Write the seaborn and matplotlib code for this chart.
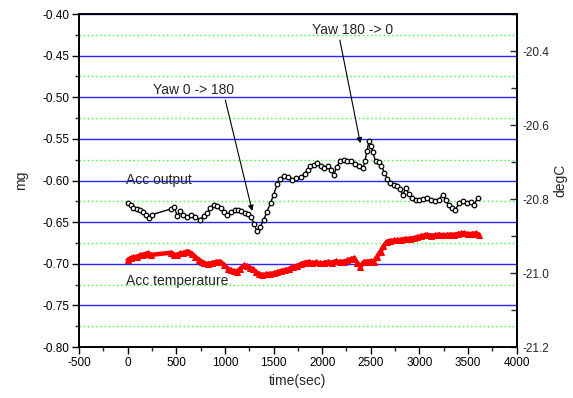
import numpy as np
import pandas as pd
import matplotlib
matplotlib.use("Agg")
import matplotlib.pyplot as plt
import seaborn as sns
from matplotlib.ticker import MultipleLocator, FormatStrFormatter

# ---------------- data ----------------
out_time = [0, 30, 60, 100, 130, 160, 190, 220, 250, 450, 480, 510, 540, 570, 610, 650, 690, 740,
            780, 815, 850, 885, 920, 955, 990, 1020, 1060, 1100, 1130, 1170, 1210, 1240, 1270,
            1300, 1330, 1360, 1400, 1430, 1470, 1500, 1540, 1570, 1610, 1650, 1690, 1730, 1780,
            1820, 1850, 1880, 1920, 1950, 1990, 2020, 2060, 2090, 2120, 2150, 2180, 2220, 2260,
            2300, 2340, 2380, 2420, 2440, 2460, 2480, 2500, 2520, 2550, 2580, 2610, 2640, 2670,
            2700, 2740, 2770, 2800, 2830, 2860, 2890, 2920, 2960, 3000, 3040, 3080, 3120, 3160,
            3200, 3240, 3270, 3300, 3340, 3370, 3410, 3450, 3490, 3530, 3560, 3600]
out_mg = [-0.627, -0.630, -0.633, -0.634, -0.636, -0.638, -0.642, -0.645, -0.641, -0.634, -0.632,
          -0.643, -0.637, -0.641, -0.644, -0.642, -0.644, -0.647, -0.643, -0.639, -0.633, -0.629,
          -0.631, -0.633, -0.638, -0.641, -0.638, -0.636, -0.635, -0.637, -0.639, -0.640, -0.644,
          -0.652, -0.661, -0.656, -0.647, -0.638, -0.627, -0.617, -0.604, -0.598, -0.594, -0.596,
          -0.599, -0.597, -0.596, -0.592, -0.587, -0.583, -0.581, -0.579, -0.583, -0.585, -0.583,
          -0.587, -0.593, -0.584, -0.577, -0.575, -0.576, -0.577, -0.580, -0.583, -0.585, -0.577,
          -0.565, -0.553, -0.558, -0.566, -0.577, -0.578, -0.582, -0.591, -0.598, -0.603, -0.605,
          -0.607, -0.610, -0.617, -0.609, -0.616, -0.621, -0.623, -0.623, -0.622, -0.621, -0.623,
          -0.625, -0.623, -0.617, -0.623, -0.630, -0.633, -0.635, -0.627, -0.625, -0.627, -0.626,
          -0.629, -0.621]

temp_time = [0, 30, 60, 94, 130, 160, 190, 213, 240, 450, 480, 510, 540, 570, 600, 625, 660, 694,
             730, 760, 790, 830, 870, 910, 951, 990, 1030, 1060, 1090, 1123, 1160, 1200, 1230, 1260,
             1290, 1320, 1350, 1381, 1420, 1460, 1500, 1540, 1580, 1620, 1660, 1700, 1740, 1780,
             1820, 1860, 1900, 1940, 1980, 2015, 2060, 2100, 2140, 2180, 2221, 2260, 2300, 2330,
             2360, 2393, 2430, 2462, 2500, 2531, 2560, 2600, 2630, 2668, 2700, 2740, 2771, 2810,
             2850, 2900, 2943, 2980, 3020, 3060, 3080, 3120, 3160, 3200, 3240, 3280, 3320, 3354,
             3400, 3430, 3460, 3500, 3540, 3580, 3612]
temp_degc = [-20.965, -20.960, -20.958, -20.956, -20.952, -20.950, -20.948, -20.947, -20.951,
             -20.945, -20.952, -20.950, -20.947, -20.946, -20.943, -20.942, -20.948, -20.956,
             -20.964, -20.970, -20.974, -20.975, -20.973, -20.970, -20.969, -20.978, -20.988,
             -20.993, -20.995, -20.996, -20.988, -20.979, -20.982, -20.986, -20.990, -20.998,
             -21.003, -21.005, -21.004, -21.002, -21.001, -20.998, -20.994, -20.992, -20.989,
             -20.983, -20.981, -20.976, -20.972, -20.970, -20.973, -20.971, -20.974, -20.973,
             -20.970, -20.972, -20.968, -20.970, -20.969, -20.966, -20.962, -20.960, -20.972,
             -20.983, -20.970, -20.969, -20.968, -20.969, -20.958, -20.942, -20.928, -20.915,
             -20.913, -20.912, -20.911, -20.910, -20.908, -20.907, -20.906, -20.903, -20.900,
             -20.898, -20.897, -20.899, -20.898, -20.896, -20.898, -20.897, -20.896, -20.897,
             -20.894, -20.893, -20.892, -20.895, -20.894, -20.893, -20.897]

x_ticks = [-500, 0, 500, 1000, 1500, 2000, 2500, 3000, 3500, 4000]
left_ticks = [-0.80, -0.75, -0.70, -0.65, -0.60, -0.55, -0.50, -0.45, -0.40]
right_ticks = [-21.2, -21.0, -20.8, -20.6, -20.4]

df_out = pd.DataFrame({"time": out_time, "mg": out_mg})
df_temp = pd.DataFrame({"time": temp_time, "degC": temp_degc})

# ---------------- figure ----------------
sns.set_style("ticks")
plt.rcParams["font.family"] = ["Liberation Sans", "DejaVu Sans"]
plt.rcParams["axes.unicode_minus"] = False

fig = plt.figure(figsize=(5.73, 3.98), dpi=100)
ax = fig.add_axes([0.1379, 0.1281, 0.7638, 0.8367])
ax2 = ax.twinx()

ax.set_xlim(-500, 4000)
ax.set_ylim(-0.80, -0.40)
ax.set_xticks(x_ticks)
ax.set_yticks(left_ticks)
ax.xaxis.set_minor_locator(MultipleLocator(250))
ax.yaxis.set_minor_locator(MultipleLocator(0.025))
ax.yaxis.set_major_formatter(FormatStrFormatter("%.2f"))
ax.yaxis.grid(True, which="major", color="#0000ff", lw=1.0, ls="-", alpha=0.85)
ax.yaxis.grid(True, which="minor", color="#33ff33", lw=1.0, ls=(0, (1, 2)))
ax.xaxis.grid(False)
ax.set_axisbelow(True)

sns.lineplot(data=df_out, x="time", y="mg", ax=ax, color="black", lw=1.0,
             marker="o", markersize=3.3, markerfacecolor="white",
             markeredgecolor="black", markeredgewidth=0.9, sort=True)

ax2.set_ylim(-21.2, -20.3)
ax2.set_yticks(right_ticks)
ax2.yaxis.set_minor_locator(MultipleLocator(0.1))
ax2.yaxis.set_major_formatter(FormatStrFormatter("%.1f"))
sns.lineplot(data=df_temp, x="time", y="degC", ax=ax2, color="red", lw=3.2,
             marker="^", markersize=3.8, markerfacecolor="red",
             markeredgecolor="red", sort=True)
ax2.set_xlim(-500, 4000)

ax.set_xlabel("time(sec)", fontsize=10, labelpad=4)
ax.set_ylabel("mg", fontsize=10, labelpad=10)
ax2.set_ylabel("degC", fontsize=10, labelpad=3, rotation=90)

ax.tick_params(axis="both", which="major", direction="out", length=5, width=1,
               labelsize=8.5, colors="black", pad=2)
ax.tick_params(axis="both", which="minor", direction="out", length=3, width=1)
ax2.tick_params(axis="y", which="major", direction="in", length=5, width=1,
                labelsize=8.5, pad=4)
ax2.tick_params(axis="y", which="minor", direction="in", length=4, width=1)

for a in (ax, ax2):
    for s in a.spines.values():
        s.set_visible(True)
        s.set_color("black")
        s.set_linewidth(1.2)

ax.text(-15, -0.5994, "Acc output", fontsize=10, va="center", ha="left")
ax.text(-15, -0.7207, "Acc temperature", fontsize=10, va="center", ha="left")
ax.annotate("Yaw 0 -> 180", xy=(1281, -0.6366), xytext=(262, -0.491),
            fontsize=10, va="center", ha="left",
            arrowprops=dict(arrowstyle="-|>", color="black", lw=0.8,
                            shrinkA=0, shrinkB=0, mutation_scale=8,
                            relpos=(0.88, 0.0)))
ax.annotate("Yaw 180 -> 0", xy=(2393, -0.5553), xytext=(1900, -0.419),
            fontsize=10, va="center", ha="left",
            arrowprops=dict(arrowstyle="-|>", color="black", lw=0.8,
                            shrinkA=0, shrinkB=0, mutation_scale=8,
                            relpos=(0.33, 0.0)))

fig.savefig("out.png", dpi=100)
